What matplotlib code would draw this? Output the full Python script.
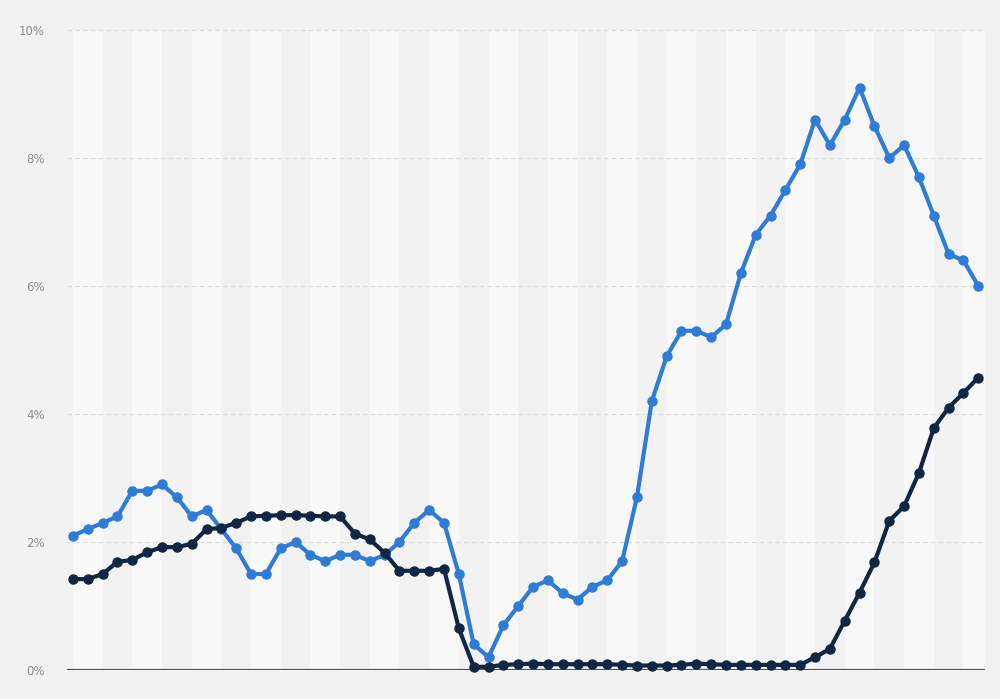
import matplotlib
matplotlib.use("Agg")
import matplotlib.pyplot as plt
from matplotlib.ticker import FuncFormatter

# Monthly values, Jan 2018 - Feb 2023
months = [f"{m:02d}/{y}" for y in range(2018, 2024) for m in range(1, 13)][:62]

inflation = [2.1, 2.2, 2.3, 2.4, 2.8, 2.8, 2.9, 2.7, 2.4, 2.5, 2.2, 1.9,
             1.5, 1.5, 1.9, 2.0, 1.8, 1.7, 1.8, 1.8, 1.7, 1.8, 2.0, 2.3,
             2.5, 2.3, 1.5, 0.4, 0.2, 0.7, 1.0, 1.3, 1.4, 1.2, 1.1, 1.3,
             1.4, 1.7, 2.7, 4.2, 4.9, 5.3, 5.3, 5.2, 5.4, 6.2, 6.8, 7.1,
             7.5, 7.9, 8.6, 8.2, 8.6, 9.1, 8.5, 8.0, 8.2, 7.7, 7.1, 6.5,
             6.4, 6.0]

rate = [1.42, 1.42, 1.5, 1.69, 1.72, 1.84, 1.92, 1.92, 1.97, 2.2, 2.22, 2.3,
        2.4, 2.41, 2.42, 2.42, 2.41, 2.4, 2.4, 2.13, 2.04, 1.83, 1.55, 1.55,
        1.55, 1.58, 0.65, 0.05, 0.05, 0.08, 0.09, 0.1, 0.09, 0.09, 0.09, 0.09,
        0.09, 0.08, 0.07, 0.07, 0.07, 0.08, 0.1, 0.09, 0.08, 0.08, 0.08, 0.08,
        0.08, 0.08, 0.2, 0.33, 0.77, 1.21, 1.68, 2.33, 2.56, 3.08, 3.78, 4.1,
        4.33, 4.57]

y_ticks = [0, 2, 4, 6, 8, 10]

BG = "#f2f2f2"
BAND = "#f8f8f8"
BLUE = "#2f7cd6"
NAVY = "#0f2742"

fig = plt.figure(figsize=(10, 6.99), dpi=100, facecolor=BG)
ax = fig.add_axes([0.067, 0.0415, 0.918, 0.9155])
ax.set_facecolor(BG)

x = list(range(len(months)))

# alternating vertical bands
for i in range(0, len(months), 4):
    ax.axvspan(i, i + 2, color=BAND, lw=0, zorder=0)

# horizontal grid
for t in y_ticks[1:]:
    ax.axhline(t, color="#dcdcdc", lw=0.8, ls=(0, (4, 3)), zorder=1)
ax.axhline(0, color="#555555", lw=1.6, zorder=2)

ax.plot(x, inflation, color=BLUE, lw=3, marker="o", ms=6.5,
        zorder=4, clip_on=False, solid_joinstyle="round")
ax.plot(x, rate, color=NAVY, lw=3, marker="o", ms=6.5,
        zorder=5, clip_on=False, solid_joinstyle="round")

ax.set_xlim(-0.4, 61.45)
ax.set_ylim(0, 10)
ax.set_yticks(y_ticks)
ax.yaxis.set_major_formatter(FuncFormatter(lambda v, p: f"{int(v)}%"))
ax.tick_params(axis="y", length=0, pad=16, labelsize=8.5, labelcolor="#8e8e8e")
ax.set_xticks([])
for s in ax.spines.values():
    s.set_visible(False)

fig.savefig("out.png", dpi=100, facecolor=BG)
